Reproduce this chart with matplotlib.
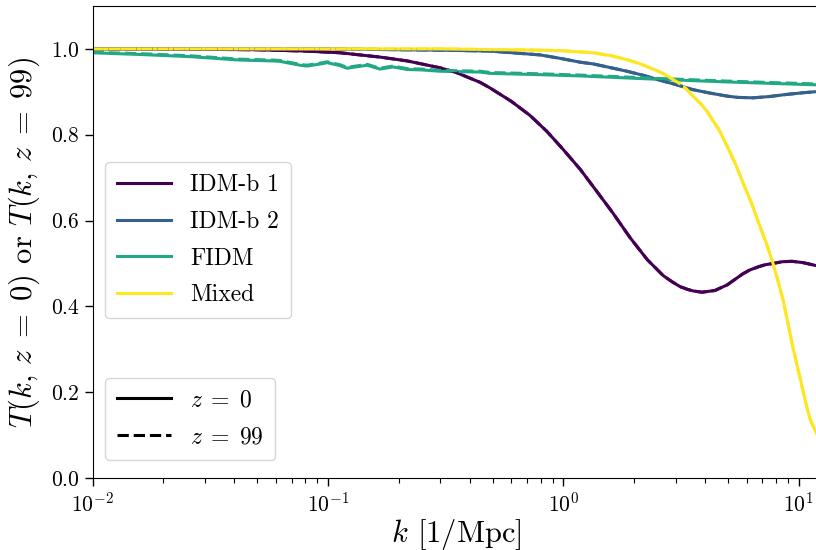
import numpy as np
import matplotlib
matplotlib.use("Agg")
import matplotlib.pyplot as plt
from matplotlib.lines import Line2D

plt.rcParams['font.family'] = 'serif'
plt.rcParams['font.serif'] = ['cmr10', 'DejaVu Serif']
plt.rcParams['mathtext.fontset'] = 'cm'
plt.rcParams['axes.formatter.use_mathtext'] = True
plt.rcParams['axes.unicode_minus'] = False

# ---- data ----
labels = ["IDM-b 1", "IDM-b 2", "FIDM", "Mixed"]

k_idm1 = [0.01, 0.03, 0.05, 0.08, 0.1125, 0.166, 0.217, 0.299, 0.347, 0.443, 0.488,
          0.60, 0.721, 0.85, 1.0, 1.18, 1.39, 1.62, 1.92, 2.27, 2.65, 2.9, 3.13, 3.35,
          3.55, 3.88, 4.4, 4.96, 5.79, 6.2, 6.8, 7.2, 7.77, 8.5, 9.35, 10.4, 12.3]
T_idm1 = [1.000, 0.999, 0.998, 0.995, 0.991, 0.981, 0.972, 0.956, 0.946, 0.922, 0.909,
          0.878, 0.845, 0.808, 0.765, 0.719, 0.667, 0.618, 0.560, 0.509, 0.472, 0.457,
          0.446, 0.440, 0.436, 0.433, 0.437, 0.450, 0.476, 0.485, 0.493, 0.497, 0.500,
          0.504, 0.505, 0.502, 0.493]

k_idm2 = [0.01, 0.1, 0.3, 0.488, 0.796, 0.968, 1.18, 1.34, 1.86, 2.2, 2.57, 3.0,
          3.55, 4.2, 4.96, 5.5, 6.38, 7.5, 8.9, 10.5, 12.3]
T_idm2 = [1.000, 1.000, 0.997, 0.995, 0.986, 0.978, 0.969, 0.965, 0.948, 0.938, 0.927,
          0.917, 0.905, 0.897, 0.890, 0.887, 0.886, 0.889, 0.894, 0.898, 0.901]

k_fidm = [0.01, 0.0159, 0.0259, 0.0423, 0.0583, 0.0625, 0.076, 0.0815, 0.0953, 0.099,
          0.1125, 0.1205, 0.1466, 0.166, 0.189, 0.217, 0.25, 0.299, 0.443, 0.488,
          0.796, 1.18, 2.57, 4.96, 12.3]
T_fidm_z0 = [0.991, 0.987, 0.982, 0.974, 0.972, 0.971, 0.962, 0.960, 0.966, 0.968,
             0.961, 0.955, 0.962, 0.953, 0.958, 0.952, 0.951, 0.948, 0.946, 0.943,
             0.940, 0.937, 0.929, 0.923, 0.916]
T_fidm_z99 = [0.992, 0.989, 0.984, 0.976, 0.974, 0.973, 0.964, 0.962, 0.968, 0.970,
              0.963, 0.957, 0.964, 0.955, 0.960, 0.954, 0.953, 0.950, 0.948, 0.945,
              0.942, 0.939, 0.931, 0.925, 0.918]

k_mixed = [0.01, 0.3, 0.796, 0.968, 1.18, 1.34, 1.6, 1.86, 2.1, 2.33, 2.6, 2.84, 3.1,
           3.35, 3.55, 3.8, 4.07, 4.20, 4.6, 4.96, 5.4, 5.79, 6.3, 6.84, 7.3, 7.77, 8.1,
           8.57, 9.0, 9.45, 9.9, 10.4, 10.8, 11.2, 11.8, 12.3]
T_mixed = [1.000, 1.000, 0.997, 0.996, 0.993, 0.991, 0.984, 0.975, 0.966, 0.956, 0.945,
           0.933, 0.920, 0.905, 0.890, 0.874, 0.855, 0.843, 0.810, 0.773, 0.730, 0.688,
           0.640, 0.586, 0.545, 0.500, 0.465, 0.415, 0.360, 0.303, 0.255, 0.205, 0.166,
           0.135, 0.108, 0.088]

ks = [k_idm1, k_idm2, k_fidm, k_mixed]
T_z0 = [T_idm1, T_idm2, T_fidm_z0, T_mixed]
T_z99 = [T_idm1, T_idm2, T_fidm_z99, T_mixed]
cmap_pos = [0.0, 0.3, 0.6, 1.0]

# ---- figure ----
W, H = 816, 550
fig = plt.figure(figsize=(W / 100, H / 100), dpi=100)
left = 92.6 / W
bottom = 1 - 478 / H
top = 1 - 6 / H
ax = fig.add_axes([left, bottom, (820 - 92.6) / W, top - bottom])

cmap = plt.get_cmap('viridis')
colors = [cmap(p) for p in cmap_pos]

LW = 2.2
for k, t0, c in zip(ks, T_z0, colors):
    ax.plot(k, t0, color=c, lw=LW, ls='-')
for k, t99, c in zip(ks, T_z99, colors):
    ax.plot(k, t99, color=c, lw=LW, ls='--')

ax.set_xscale('log')
ax.set_xlim(1e-2, 12.3)
ax.set_ylim(0, 1.1)
ax.set_yticks([0.0, 0.2, 0.4, 0.6, 0.8, 1.0])
ax.spines['right'].set_visible(False)
ax.tick_params(axis='both', which='major', labelsize=15.5, length=6, width=1)
ax.tick_params(axis='both', which='minor', length=3.5, width=0.8)

ax.set_xlabel(r'$k$ [1/Mpc]', fontsize=22, labelpad=1)
ax.set_ylabel(r'$T(k,\,z\;=\;0)$ or $T(k,\,z\;=\;99)$', fontsize=22, labelpad=6)

h1 = [Line2D([], [], color=c, lw=LW) for c in colors]
leg1 = ax.legend(h1, labels, loc='upper left', bbox_to_anchor=(0.017, 0.669),
                 borderaxespad=0, fontsize=17, handlelength=2.3, labelspacing=0.62,
                 borderpad=0.5)
ax.add_artist(leg1)
h2 = [Line2D([], [], color='k', lw=LW, ls='-'),
      Line2D([], [], color='k', lw=LW, ls='--')]
ax.legend(h2, [r'$z\;=\;0$', r'$z\;=\;99$'], loc='lower left', bbox_to_anchor=(0.017, 0.038),
          borderaxespad=0, fontsize=17, handlelength=2.3, labelspacing=0.62,
          borderpad=0.5)

fig.savefig('out.png', dpi=100)
